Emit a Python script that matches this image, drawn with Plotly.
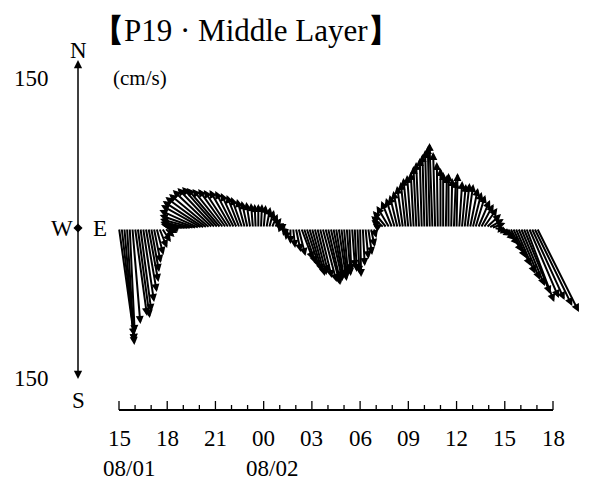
import numpy as np
import plotly.graph_objects as go

# ---- current record, 10-minute samples from 08/01 15:00 ----
minutes = np.arange(0, 26 * 60 + 1, 10)
hours = minutes / 60.0

# east (u) and north (v) components, cm/s
u_east = [
    15, 13, 10, 7, 5, 8, 12, 12, 11, 11, 11, 10,
    8, 7, 7, 8, 9, 10, 10, 9, 4, -5, -10, -16,
    -20, -24, -28, -31, -34, -37, -40, -41, -42, -42, -41, -40,
    -38, -36, -34, -31, -28, -25, -22, -19, -16, -13, -11, -8,
    -6, -4, -2, -1, 0, 1, 2, 4, 5, 6, 7, 7,
    6, 0, -2, -2, 0, 2, 5, 7, 12, 12, 13, 13,
    13, 12, 11, 12, 14, 15, 13, 12, 10, 8, 8, 6,
    4, 4, 2, 3, 2, 2, 1, 2, 3, 4, 4, 3,
    -2, -6, -10, -13, -14, -13, -11, -9, -8, -7, -6, -5,
    -5, -4, -3, -3, -3, -2, -2, -2, -2, -3, -2, -1,
    0, 0, 1, 0, 1, 2, 1, 3, 4, 5, 6, 8,
    9, 10, 12, 13, 14, 15, 15, 14, 12, 12, 12, 13,
    14, 15, 16, 18, 20, 22, 24, 27, 28, 30, 33, 38,
    42,
]
v_north = [
    -108, -114, -117, -114, -105, -96, -88, -90, -84, -74, -64, -54,
    -44, -35, -27, -20, -14, -9, -5, -2, 0, 1, 1, 2,
    2, 3, 4, 6, 9, 13, 18, 23, 27, 31, 34, 38,
    40, 41, 40, 39, 39, 38, 38, 37, 35, 33, 31, 29,
    27, 26, 25, 24, 24, 24, 23, 21, 18, 14, 10, 5,
    1, -4, -8, -12, -16, -20, -24, -28, -32, -36, -40, -44,
    -48, -47, -45, -50, -54, -57, -56, -53, -51, -50, -53, -50,
    -46, -48, -44, -40, -44, -46, -49, -38, -31, -27, -19, -10,
    1, 4, 8, 12, 17, 22, 27, 30, 33, 37, 42, 46,
    50, 53, 56, 62, 66, 70, 74, 78, 82, 85, 76, 66,
    60, 56, 53, 55, 50, 48, 55, 47, 44, 45, 44, 40,
    36, 33, 28, 24, 20, 14, 9, 5, -2, -5, -8, -12,
    -17, -24, -30, -38, -46, -52, -58, -66, -74, -70, -72, -78,
    -84,
]

# time axis
tick_hours = [0, 3, 6, 9, 12, 15, 18, 21, 24, 27]
tick_labels = ["15", "18", "21", "00", "03", "06", "09", "12", "15", "18"]
date_labels = ["08/01", "08/02"]
date_hours = [0.6, 9.5]

# speed scale shown on the compass
scale_values = [150, -150]

# ---- layout geometry (x in hours, y in cm/s) ----
W, H = 604, 488
T_LEFT_PX, T_RIGHT_PX = 119, 553          # where hours 0 and 27 sit
T_SPAN = tick_hours[-1] - tick_hours[0]
px_per_hour = (T_RIGHT_PX - T_LEFT_PX) / T_SPAN
X_RANGE = (-T_LEFT_PX / px_per_hour, (W - T_LEFT_PX) / px_per_hour)
Y_RANGE = (-260, 228)
px_per_cms = H / (Y_RANGE[1] - Y_RANGE[0])
hours_per_cms = px_per_cms / px_per_hour  # keeps arrows isotropic
COMPASS_T = (78 - T_LEFT_PX) / px_per_hour
AXIS_Y = -182                             # level of the time axis line
MAJOR_LEN, MINOR_LEN = 9, 5
SERIF = "Liberation Serif, Times New Roman, serif"

annotations = []
for t, u, v in zip(hours, u_east, v_north):
    annotations.append(dict(
        x=t + u * hours_per_cms, y=v, ax=t, ay=0,
        xref="x", yref="y", axref="x", ayref="y",
        text="", showarrow=True, arrowhead=2, arrowsize=0.8,
        arrowwidth=2.0, arrowcolor="black", standoff=0, startstandoff=0,
    ))

# compass arrows (N / S)
for tip in (168, -151):
    annotations.append(dict(
        x=COMPASS_T, y=tip, ax=COMPASS_T, ay=0,
        xref="x", yref="y", axref="x", ayref="y",
        text="", showarrow=True, arrowhead=2, arrowsize=1.1,
        arrowwidth=1.5, arrowcolor="black", standoff=0, startstandoff=0,
    ))


def label(text, x, y, size=23, xref="x", yref="y", **kw):
    annotations.append(dict(
        text=text, x=x, y=y, xref=xref, yref=yref, showarrow=False,
        xanchor="center", yanchor="middle",
        font=dict(family=SERIF, size=size, color="black"), **kw))


label("N", COMPASS_T, 178)
label("S", COMPASS_T, -172)
label("W", COMPASS_T - 16 / px_per_hour, 0)
label("E", COMPASS_T + 22 / px_per_hour, 0)
for val in scale_values:
    label(str(abs(val)), 31 / W, val, xref="paper")
label("(cm/s)", (140 - T_LEFT_PX) / px_per_hour, 150, size=21)
for h, txt in zip(tick_hours, tick_labels):
    label(txt, h, AXIS_Y - 28)
for txt, h in zip(date_labels, date_hours):
    label(txt, h, AXIS_Y - 58)
label("<b>【</b>P19 · Middle Layer<b>】</b>", 246 / W, 1 - 31 / H, size=31,
      xref="paper", yref="paper")

# hourly tick marks, longer every three hours
tick_x, tick_y = [], []
for h in range(tick_hours[0], tick_hours[-1] + 1):
    length = MAJOR_LEN if h in tick_hours else MINOR_LEN
    tick_x += [h, h, None]
    tick_y += [AXIS_Y, AXIS_Y + length, None]

fig = go.Figure()
fig.add_trace(go.Scatter(
    x=tick_x, y=tick_y, mode="lines", line=dict(color="black", width=1.3),
    hoverinfo="skip", showlegend=False,
))
fig.add_trace(go.Scatter(
    x=[tick_hours[0], tick_hours[-1]], y=[AXIS_Y, AXIS_Y], mode="lines",
    line=dict(color="black", width=2), hoverinfo="skip", showlegend=False,
))
fig.add_trace(go.Scatter(
    x=[COMPASS_T], y=[0], mode="markers", cliponaxis=False,
    marker=dict(symbol="diamond", size=7, color="black"),
    hoverinfo="skip", showlegend=False,
))

fig.update_layout(
    width=W, height=H, autosize=False,
    margin=dict(l=0, r=0, t=0, b=0, pad=0),
    paper_bgcolor="white", plot_bgcolor="white",
    showlegend=False,
    annotations=annotations,
    xaxis=dict(domain=[0, 1], range=list(X_RANGE), visible=False,
               automargin=False),
    yaxis=dict(domain=[0, 1], range=list(Y_RANGE), visible=False,
               automargin=False),
)

fig.write_html("out.html")
